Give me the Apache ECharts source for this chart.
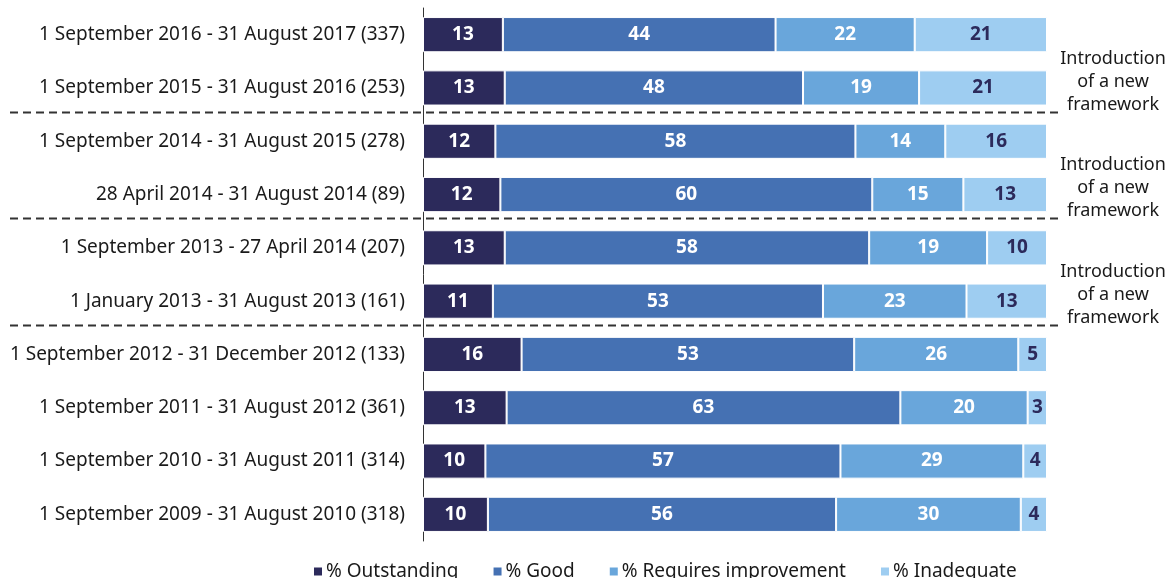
<!DOCTYPE html>
<html><head><meta charset="utf-8">
<script src="https://cdn.jsdelivr.net/npm/echarts@6/dist/echarts.min.js"></script>
<style>html,body{margin:0;padding:0;background:#fff}#c{width:1170px;height:578px}</style>
</head><body><div id="c"></div>
<script>
const categories = [
  '1 September 2016 - 31 August 2017 (337)',
  '1 September 2015 - 31 August 2016 (253)',
  '1 September 2014 - 31 August 2015 (278)',
  '28 April 2014 - 31 August 2014 (89)',
  '1 September 2013 - 27 April 2014 (207)',
  '1 January 2013 - 31 August 2013 (161)',
  '1 September 2012 - 31 December 2012 (133)',
  '1 September 2011 - 31 August 2012 (361)',
  '1 September 2010 - 31 August 2011 (314)',
  '1 September 2009 - 31 August 2010 (318)'
];
const seriesNames = ['% Outstanding', '% Good', '% Requires improvement', '% Inadequate'];
const outstanding = [12.8, 13.1, 11.6, 12.4, 13.1, 11.2, 15.8, 13.4, 10.0, 10.4];
const good        = [43.7, 47.8, 57.7, 59.6, 58.4, 52.9, 53.3, 63.1, 56.9, 55.8];
const requiresImp = [22.3, 18.6, 14.4, 14.6, 18.9, 23.0, 26.3, 20.4, 29.3, 29.6];
const inadequate  = [21.2, 20.5, 16.3, 13.4, 9.6, 12.9, 4.6, 3.1, 3.8, 4.2];
// separators drawn after these category indices
const frameworkBreaks = [1, 3, 5];
const annotationText = 'Introduction\nof a new\nframework';

const colors = ['#2c2a5b', '#4571b3', '#69a6db', '#9ecdf1'];
const labelColors = ['#ffffff', '#ffffff', '#ffffff', '#2c2a5b'];
const FONT = '"Noto Sans", sans-serif';

const chart = echarts.init(document.getElementById('c'));
const seriesData = [outstanding, good, requiresImp, inadequate];
chart.setOption({
  animation: false,
  textStyle: { fontFamily: FONT },
  color: colors,
  grid: { left: 423, right: 123, top: 8, height: 533, containLabel: false },
  xAxis: { type: 'value', min: 0, max: 100, show: false },
  yAxis: {
    type: 'category', data: categories, inverse: true,
    axisLine: { show: true, lineStyle: { color: '#333', width: 1 } },
    axisTick: { show: false },
    axisLabel: { color: '#1a1a1a', fontSize: 19, fontFamily: FONT, margin: 18 }
  },
  legend: {
    top: 557, left: 307, icon: 'rect', itemWidth: 10, itemHeight: 10, itemGap: 33,
    textStyle: { fontSize: 19, color: '#1a1a1a', fontFamily: FONT, padding: [0, 0, 0, -2] },
    data: seriesNames
  },
  series: seriesNames.map((name, i) => ({
    name, type: 'bar', stack: 'total', barCategoryGap: '34%',
    data: seriesData[i],
    itemStyle: { color: colors[i], borderColor: '#ffffff', borderWidth: 1 },
    label: {
      show: true, position: 'inside', color: labelColors[i],
      fontFamily: FONT, fontWeight: 'bold', fontSize: 19,
      formatter: p => Math.round(p.value)
    }
  }))
});

function drawAnnotations() {
  const graphics = [];
  frameworkBreaks.forEach((idx) => {
    const y1 = chart.convertToPixel({ yAxisIndex: 0 }, idx);
    const y2 = chart.convertToPixel({ yAxisIndex: 0 }, idx + 1);
    const y = Math.round((y1 + y2) / 2) - 2.5;
    graphics.push({
      type: 'line', shape: { x1: 10, y1: y, x2: 1060, y2: y },
      style: { stroke: '#333', lineWidth: 2, lineDash: [8, 5] }, z: 10
    });
    graphics.push({
      type: 'text', x: 1113, y: y + 4,
      style: { text: annotationText, fill: '#1a1a1a', font: '18px ' + FONT,
               align: 'center', verticalAlign: 'bottom', lineHeight: 23 }, z: 10
    });
  });
  chart.setOption({ graphic: graphics });
}
drawAnnotations();
</script></body></html>
